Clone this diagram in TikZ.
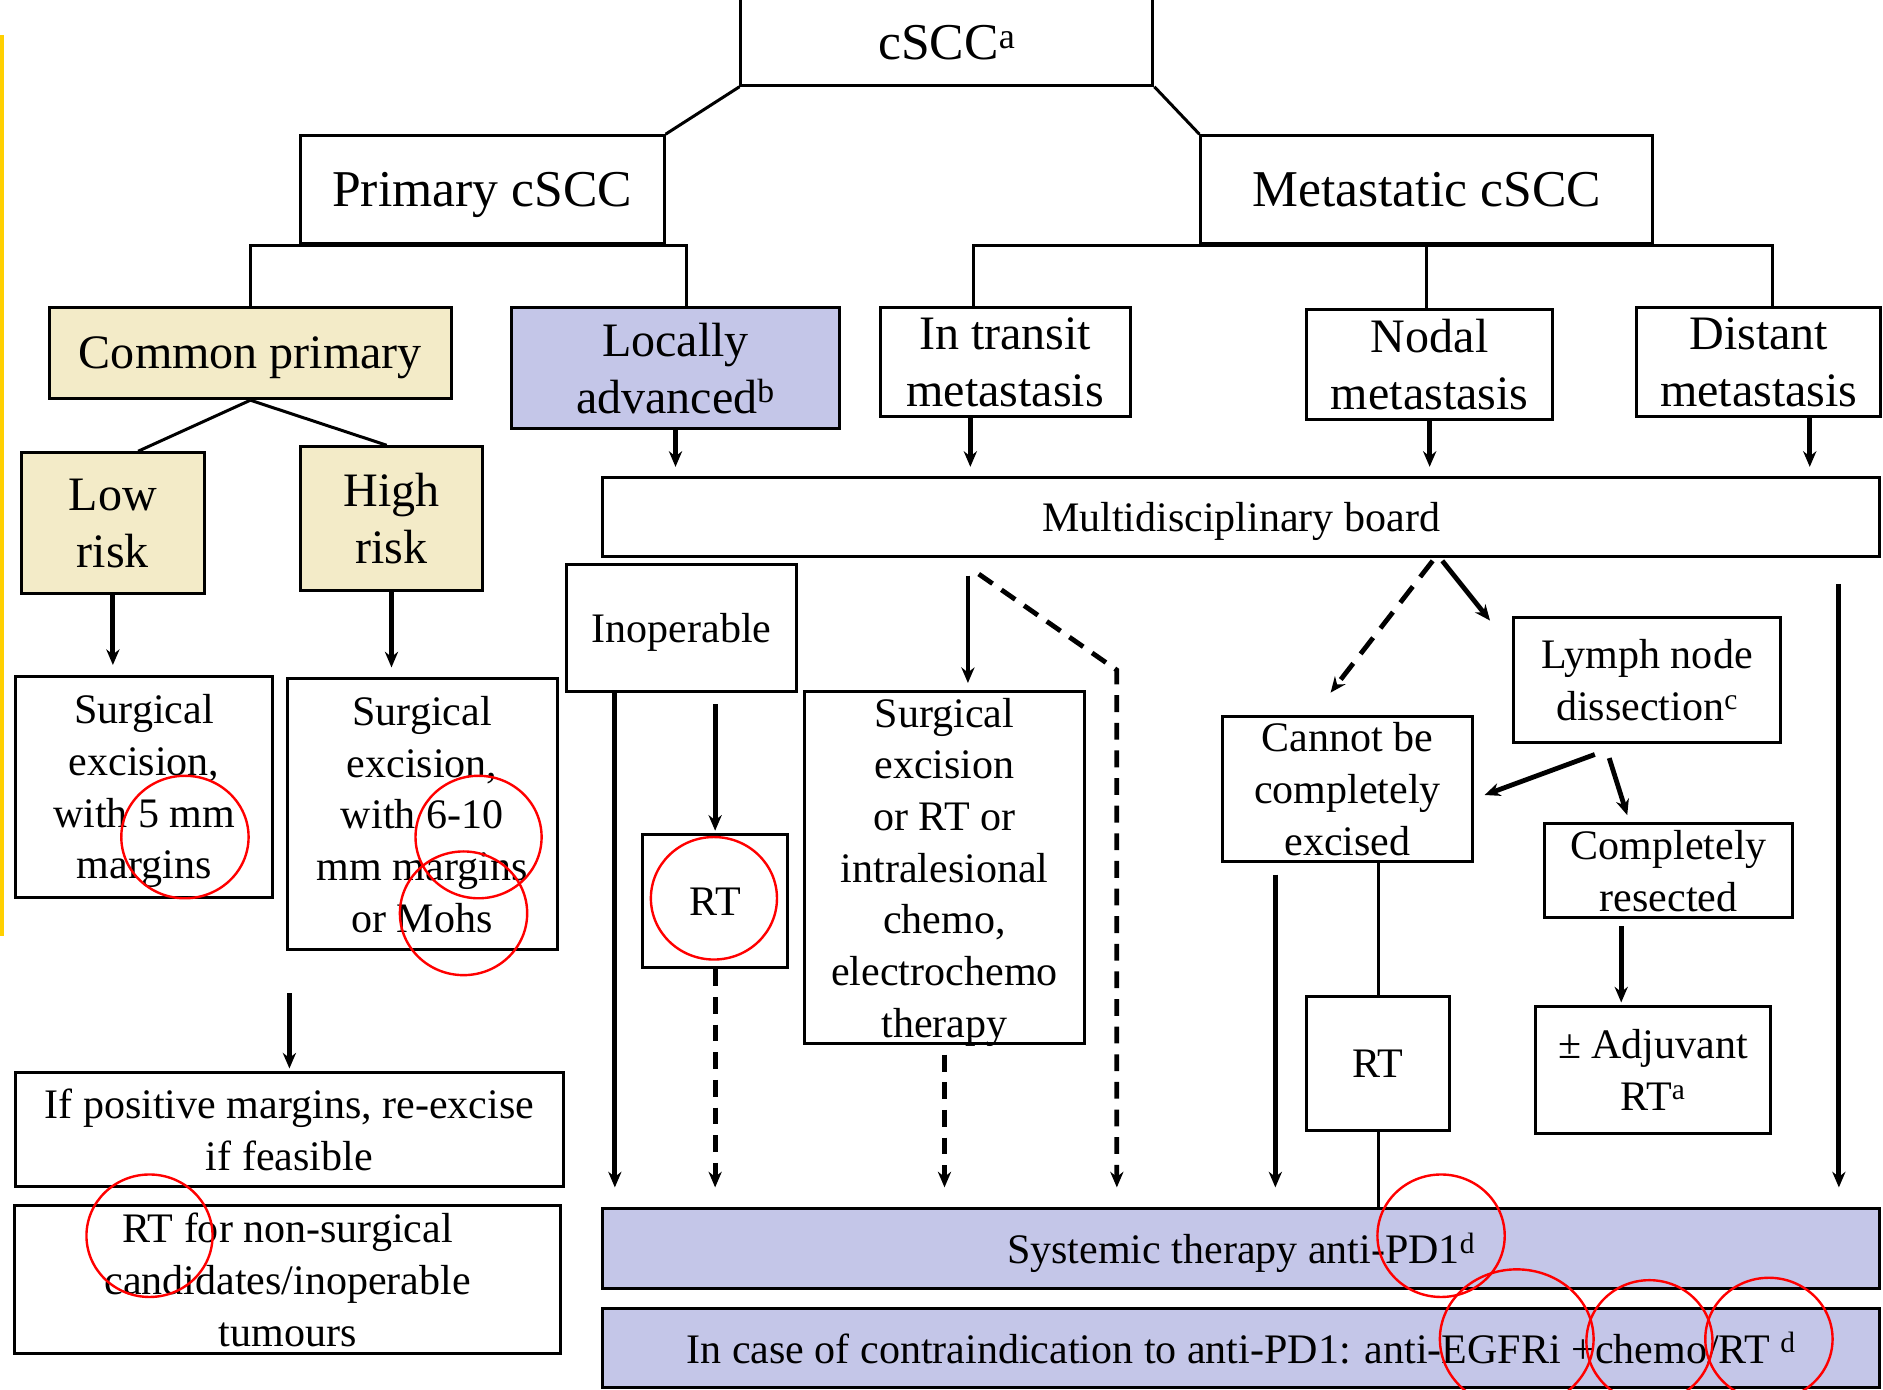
\documentclass[tikz,border=0pt]{standalone}
\usepackage{fontspec}
\setmainfont{Liberation Serif}
\usetikzlibrary{arrows.meta,calc}
\definecolor{beige}{RGB}{243,235,200}
\definecolor{lav}{RGB}{196,198,232}
\definecolor{ylw}{RGB}{255,208,0}
\newcommand\fbig{\fontsize{43}{50}\selectfont}
\newcommand\fmid{\fontsize{40}{47.5}\selectfont}
\newcommand\fsm{\fontsize{35}{43}\selectfont}
\begin{document}
\begin{tikzpicture}[x=1pt,y=-1pt,
  box/.style={draw, line width=2.5pt, inner sep=0pt, align=center, fill=white, text depth=0pt},
  ln/.style={line width=2.5pt},
  arr/.style={line width=4pt, -{Stealth[length=13pt,width=11pt]}, shorten >=8pt},
  tosys/.style={arr, shorten >=16pt},
  dsh/.style={dash pattern=on 14pt off 9pt},
  redmark/.style={draw=red, line width=2pt}
]
\fill[white] (0,0) rectangle (1568,1157);
\useasboundingbox (0,0) rectangle (1568,1157);

% top level
\node[box, minimum width=343pt, minimum height=72pt, font=\fbig] (cscc) at (788.5,35) {cSCC\textsuperscript{a}};
\node[box, minimum width=303pt, minimum height=90pt, font=\fbig] (prim) at (401.5,158) {Primary cSCC};
\node[box, minimum width=376pt, minimum height=90pt, font=\fbig] (meta) at (1188,158) {Metastatic cSCC};

% second level
\node[box, fill=beige, minimum width=335pt, minimum height=76pt, font=\fmid] (common) at (208.5,294) {Common primary};
\node[box, fill=lav, minimum width=273pt, minimum height=101pt, font=\fmid] (locally) at (562.5,306.5) {Locally\\advanced\textsuperscript{b}};
\node[box, minimum width=208pt, minimum height=91pt, font=\fmid] (transit) at (837,301.5) {In transit\\metastasis};
\node[box, minimum width=205pt, minimum height=91pt, font=\fmid] (nodal) at (1190.5,303.5) {Nodal\\metastasis};
\node[box, minimum width=203pt, minimum height=91pt, font=\fmid] (distant) at (1464.5,301.5) {Distant\\metastasis};

% primary branch
\node[box, fill=beige, minimum width=152pt, minimum height=117pt, font=\fmid] (low) at (94,435.5) {Low\\risk};
\node[box, fill=beige, minimum width=152pt, minimum height=120pt, font=\fmid] (high) at (326,432) {High\\risk};
\node[box, minimum width=214pt, minimum height=184pt, font=\fsm] (surg1) at (120,655) {Surgical\\excision,\\with 5 mm\\margins};
\node[box, minimum width=225pt, minimum height=226pt, font=\fsm] (surg2) at (351.5,678) {Surgical\\excision,\\with 6-10\\mm margins\\or Mohs};
\node[box, minimum width=456pt, minimum height=95pt, font=\fsm] (ifpos) at (241,940.5) {If positive margins, re-excise\\if feasible};
\node[box, minimum width=455pt, minimum height=123pt, font=\fsm] (rtnon) at (239.5,1065.5) {RT for non-surgical\\candidates/inoperable\\tumours};

% board and below
\node[box, minimum width=1063pt, minimum height=65pt, font=\fsm] (mdb) at (1033.5,430.5) {Multidisciplinary board};
\node[box, minimum width=191pt, minimum height=106pt, font=\fsm] (inop) at (567.5,523) {Inoperable};
\node[box, minimum width=121pt, minimum height=111pt, font=\fsm] (rt1) at (595.5,750.5) {RT};
\node[box, minimum width=233pt, minimum height=293pt, font=\fsm] (surg3) at (786.5,722.5) {Surgical\\excision\\or RT or\\intralesional\\chemo,\\electrochemo\\therapy};
\node[box, minimum width=223pt, minimum height=104pt, font=\fsm] (lymph) at (1371.5,566) {Lymph node\\dissection\textsuperscript{c}};
\node[box, minimum width=208pt, minimum height=120pt, font=\fsm] (cannot) at (1122,657) {Cannot be\\completely\\excised};
\node[box, minimum width=207pt, minimum height=78pt, font=\fsm] (compl) at (1389.5,725) {Completely\\resected};
\node[box, minimum width=195pt, minimum height=106pt, font=\fsm] (adjrt) at (1376.5,891) {± Adjuvant\\RT\textsuperscript{a}};
\node[box, minimum width=119pt, minimum height=111pt, font=\fsm] (rt2) at (1147.5,885.5) {RT};
\node[box, fill=lav, minimum width=1063pt, minimum height=67pt, font=\fsm] (syst) at (1033.5,1039.5) {Systemic therapy anti-PD1\textsuperscript{d}};
\node[box, fill=lav, minimum width=1063pt, minimum height=65pt, font=\fsm] (contra) at (1033.5,1122.5) {In case of contraindication to anti-PD1: anti-EGFRi +chemo/RT \textsuperscript{d}};

% tree connectors
\draw[ln] (cscc.south west) -- (prim.north east);
\draw[ln] (cscc.south east) -- (meta.north west);
\draw[ln] ([xshift=9.5pt]locally.north) |- (prim.south) -| (common.north);
\draw[ln] ([xshift=-26pt]transit.north) |- (meta.south) -| ([xshift=11.5pt]distant.north);
\draw[ln] (meta.south) -- (meta.south |- nodal.north);
\draw[ln] (common.south) -- ([xshift=21pt]low.north);
\draw[ln] (common.south) -- ([xshift=-4pt]high.north);

% primary arrows
\draw[arr] (low.south) -- (low.south |- surg1.north);
\draw[arr] (high.south) -- (high.south |- surg2.north);
\coordinate (ifposIn) at (241,827);
\draw[arr, shorten >=2pt] (ifposIn) -- (ifpos.north);

% into the board
\draw[arr] (locally.south) -- (locally.south |- mdb.north);
\draw[arr] ([xshift=-29pt]transit.south) -- ([xshift=-29pt]transit.south |- mdb.north);
\draw[arr] (nodal.south) -- (nodal.south |- mdb.north);
\draw[arr] ([xshift=42.5pt]distant.south) -- ([xshift=42.5pt]distant.south |- mdb.north);

% locally advanced / in transit branches
\draw[tosys] ([xshift=-55.5pt]inop.south) -- ([xshift=-55.5pt]inop.south |- syst.north);
\draw[arr, shorten >=2pt] ($(inop.south -| rt1.north)+(0,9)$) -- (rt1.north);
\draw[tosys, dsh] (rt1.south) -- (rt1.south |- syst.north);
\draw[arr, shorten >=6pt] ($(mdb.south -| surg3.north)+(19.5,15)$) -- ([xshift=19.5pt]surg3.north);
\draw[tosys, dsh] ($(surg3.south)+(0,8)$) -- (surg3.south |- syst.north);
\coordinate (dA) at (815,478);
\coordinate (dB) at (930,558);
\draw[tosys, dsh] (dA) -- (dB) -- (dB |- syst.north);

% nodal branches
\coordinate (fork) at (1193,467);
\draw[arr, shorten >=0pt, dash pattern=on 17pt off 10pt] (fork) -- ($(cannot.north)+(-14,-19)$);
\draw[arr, shorten >=0pt] ([xshift=8pt]fork) -- ($(lymph.north west)+(-18,4)$);
\draw[arr, shorten >=0pt] ($(lymph.south)+(-43.5,9)$) -- ($(cannot.east)+(9,5)$);
\draw[arr, shorten >=0pt] ($(lymph.south)+(-31.5,12)$) -- ($(compl.north)+(-34.5,-6)$);
\draw[arr, shorten >=2pt] ($(compl.south)+(-39.5,6)$) -- ([xshift=-39.5pt]compl.south |- adjrt.north);
\draw[tosys] ($(cannot.south)+(-60,10)$) -- ([xshift=-60pt]cannot.south |- syst.north);
\draw[ln] (cannot.south -| rt2.north) -- (rt2.north);
\draw[ln] (rt2.south) -- (rt2.south |- syst.north);

% distant
\coordinate (rightTop) at ($(mdb.south east)+(-35,22)$);
\draw[tosys] (rightTop) -- (rightTop |- syst.north);

% margin line
\fill[ylw] (0,29) rectangle (3,779);

% red marks
\draw[redmark] (154,697) ellipse [x radius=53pt, y radius=51pt];
\draw[redmark] (398.5,697) ellipse [x radius=52.5pt, y radius=51pt];
\draw[redmark] (386,760.5) ellipse [x radius=53pt, y radius=51.5pt];
\draw[redmark] (594.5,748) ellipse [x radius=52.5pt, y radius=51pt];
\draw[redmark] (124.5,1029) ellipse [x radius=52.5pt, y radius=51pt];
\draw[redmark] (1200,1029) ellipse [x radius=53pt, y radius=51pt];
\draw[redmark] (1263,1115) ellipse [x radius=64pt, y radius=58pt];
\draw[redmark] (1373.5,1117) ellipse [x radius=52.5pt, y radius=51pt];
\draw[redmark] (1473,1115) ellipse [x radius=53pt, y radius=51pt];
\end{tikzpicture}
\end{document}
